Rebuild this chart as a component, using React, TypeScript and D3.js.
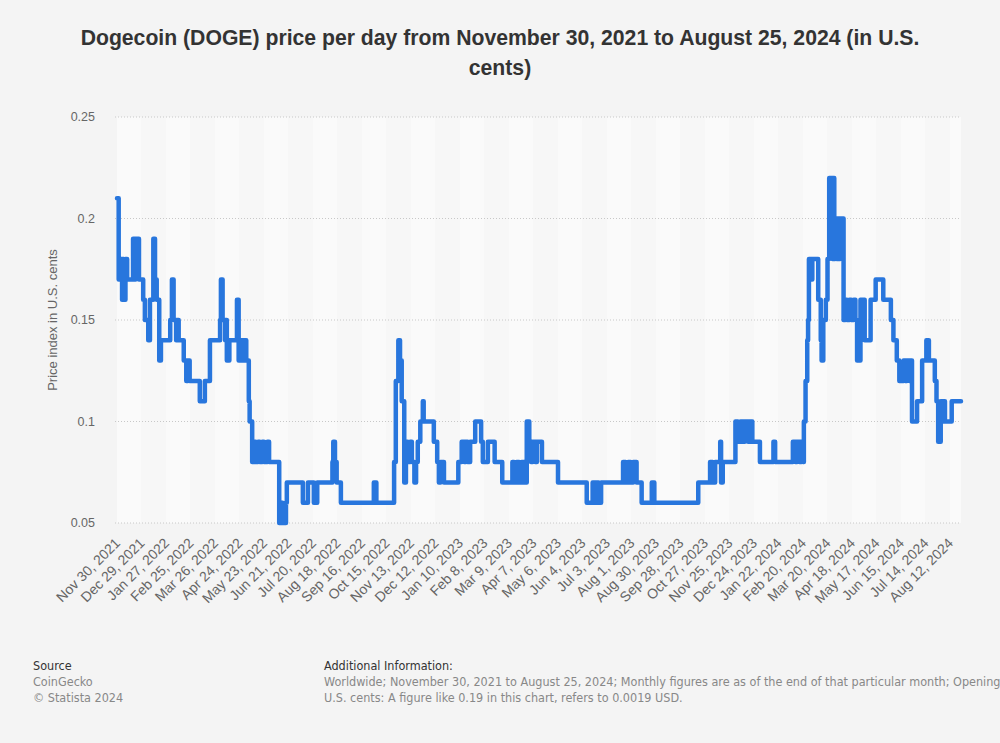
import React from "react";
import * as d3 from "d3";

// Dogecoin price per day (U.S. cents), Nov 30 2021 – Aug 25 2024.
// Values change only at the listed days (days since Nov 30, 2021) and hold until the next change.
const startDate = "2021-11-30";
const lastDay = 999;
const changeDay = [
  0, 2, 5, 6, 7, 8, 10, 12, 19, 21, 22, 26, 31, 33, 37, 39, 43, 45, 47, 50, 52, 63, 65, 67, 70, 71, 73, 79, 82, 84, 86,
  98, 104, 110, 122, 123, 125, 128, 129, 130, 133, 142, 144, 147, 149, 150, 153, 156, 157, 160, 162, 164, 167, 169,
  172, 174, 178, 180, 192, 195, 196, 200, 201, 220, 226, 233, 237, 255, 256, 258, 260, 265, 304, 307, 328, 330, 333,
  335, 337, 340, 342, 344, 347, 349, 352, 354, 356, 359, 362, 363, 375, 379, 381, 383, 387, 404, 408, 411, 413, 415,
  418, 424, 431, 433, 439, 447, 456, 468, 470, 473, 476, 479, 482, 485, 488, 490, 492, 495, 497, 503, 522, 556, 563,
  566, 568, 570, 573, 599, 602, 605, 608, 611, 615, 621, 633, 636, 688, 702, 705, 708, 714, 715, 717, 732, 735, 738,
  741, 743, 747, 749, 752, 761, 777, 779, 800, 803, 805, 808, 810, 812, 813, 815, 817, 818, 819, 822, 823, 830, 833,
  834, 836, 839, 841, 843, 847, 848, 849, 850, 852, 854, 855, 856, 860, 862, 864, 867, 869, 872, 874, 876, 880, 885,
  892, 898, 907, 916, 919, 923, 926, 931, 933, 935, 938, 939, 941, 947, 953, 958, 961, 968, 970, 972, 975, 977, 978,
  980, 988,
];
const priceCents = [
  0.21, 0.17, 0.18, 0.16, 0.18, 0.16, 0.18, 0.17, 0.19, 0.17, 0.19, 0.17, 0.16, 0.15, 0.14, 0.16, 0.19, 0.17, 0.16,
  0.13, 0.14, 0.15, 0.17, 0.15, 0.14, 0.15, 0.14, 0.13, 0.12, 0.13, 0.12, 0.11, 0.12, 0.14, 0.15, 0.17, 0.15, 0.14,
  0.15, 0.13, 0.14, 0.16, 0.13, 0.14, 0.13, 0.14, 0.13, 0.11, 0.1, 0.08, 0.09, 0.08, 0.09, 0.08, 0.09, 0.08, 0.09,
  0.08, 0.05, 0.06, 0.05, 0.06, 0.07, 0.06, 0.07, 0.06, 0.07, 0.08, 0.09, 0.08, 0.07, 0.06, 0.07, 0.06, 0.08, 0.12,
  0.14, 0.13, 0.11, 0.07, 0.09, 0.08, 0.09, 0.08, 0.07, 0.08, 0.09, 0.1, 0.11, 0.1, 0.09, 0.08, 0.07, 0.08, 0.07,
  0.08, 0.09, 0.08, 0.09, 0.08, 0.09, 0.1, 0.09, 0.08, 0.09, 0.08, 0.07, 0.08, 0.07, 0.08, 0.07, 0.08, 0.07, 0.1,
  0.09, 0.08, 0.09, 0.08, 0.09, 0.08, 0.07, 0.06, 0.07, 0.06, 0.07, 0.06, 0.07, 0.08, 0.07, 0.08, 0.07, 0.08, 0.07,
  0.06, 0.07, 0.06, 0.07, 0.08, 0.07, 0.08, 0.09, 0.07, 0.08, 0.1, 0.09, 0.1, 0.09, 0.1, 0.09, 0.1, 0.09, 0.08, 0.09,
  0.08, 0.09, 0.08, 0.09, 0.08, 0.09, 0.08, 0.1, 0.12, 0.14, 0.15, 0.18, 0.17, 0.18, 0.16, 0.14, 0.13, 0.15, 0.16,
  0.18, 0.22, 0.18, 0.22, 0.18, 0.2, 0.18, 0.2, 0.18, 0.2, 0.15, 0.16, 0.15, 0.16, 0.15, 0.16, 0.15, 0.13, 0.16, 0.14,
  0.16, 0.17, 0.16, 0.15, 0.14, 0.13, 0.12, 0.13, 0.12, 0.13, 0.12, 0.13, 0.1, 0.11, 0.13, 0.14, 0.13, 0.12, 0.11,
  0.09, 0.11, 0.1, 0.11, 0.1, 0.11,
];

const xTickLabels = [
  "Nov 30, 2021", "Dec 29, 2021", "Jan 27, 2022", "Feb 25, 2022", "Mar 26, 2022", "Apr 24, 2022", "May 23, 2022",
  "Jun 21, 2022", "Jul 20, 2022", "Aug 18, 2022", "Sep 16, 2022", "Oct 15, 2022", "Nov 13, 2022", "Dec 12, 2022",
  "Jan 10, 2023", "Feb 8, 2023", "Mar 9, 2023", "Apr 7, 2023", "May 6, 2023", "Jun 4, 2023", "Jul 3, 2023",
  "Aug 1, 2023", "Aug 30, 2023", "Sep 28, 2023", "Oct 27, 2023", "Nov 25, 2023", "Dec 24, 2023", "Jan 22, 2024",
  "Feb 20, 2024", "Mar 20, 2024", "Apr 18, 2024", "May 17, 2024", "Jun 15, 2024", "Jul 14, 2024", "Aug 12, 2024",
];
const yTicks = [0.05, 0.1, 0.15, 0.2, 0.25];

const titleLines = [
  "Dogecoin (DOGE) price per day from November 30, 2021 to August 25, 2024 (in U.S.",
  "cents)",
];
const yAxisTitle = "Price index in U.S. cents";
const sourceLines = ["CoinGecko", "© Statista 2024"];
const infoLines = [
  "Worldwide; November 30, 2021 to August 25, 2024; Monthly figures are as of the end of that particular month; Opening price in",
  "U.S. cents: A figure like 0.19 in this chart, refers to 0.0019 USD.",
];

const W = 1000;
const H = 743;
const FONT = "'Liberation Sans', Arial, Helvetica, sans-serif";
const NARROW = "'Liberation Sans Narrow', 'DejaVu Sans Condensed', 'Liberation Sans', sans-serif";

export default function App() {
  const parse = d3.timeParse("%b %d, %Y");
  const start = d3.timeParse("%Y-%m-%d")(startDate)!;
  const tickDays = xTickLabels.map((l) => d3.timeDay.count(start, parse(l)!));

  const x = d3.scaleLinear().domain([0, lastDay]).range([117, 961]);
  const y = d3.scaleLinear().domain([0.05, 0.25]).range([523, 117]);

  const points: [number, number][] = changeDay.map((d, i) => [d, priceCents[i]]);
  points.push([lastDay, priceCents[priceCents.length - 1]]);
  const line = d3
    .line<[number, number]>()
    .x((d) => x(d[0]))
    .y((d) => y(d[1]))
    .curve(d3.curveStepAfter);

  const bandEdges = [...tickDays, lastDay];
  const [yTop, yBot] = [y(0.25), y(0.05)];

  return (
    <svg
      width={W}
      height={H}
      style={{ position: "absolute", left: 0, top: 0, display: "block" }}
      xmlns="http://www.w3.org/2000/svg"
    >
      <rect x={0} y={0} width={W} height={H} fill="#f4f4f4" />
      {/* title */}
      {titleLines.map((t, i) => (
        <text
          key={i}
          x={W / 2}
          y={45 + i * 30}
          textAnchor="middle"
          fontFamily={FONT}
          fontWeight="bold"
          fontSize={21.2}
          fill="#333333"
        >
          {t}
        </text>
      ))}
      {/* stripes */}
      {bandEdges.slice(0, -1).map((d, i) => (
        <rect
          key={i}
          x={x(d)}
          y={yTop}
          width={x(bandEdges[i + 1]) - x(d)}
          height={yBot - yTop}
          fill={i % 2 === 0 ? "#fafafa" : "#f7f7f7"}
        />
      ))}
      {/* grid */}
      {yTicks.map((t) => (
        <g key={t}>
          <line
            x1={115}
            x2={961}
            y1={y(t)}
            y2={y(t)}
            stroke="#c8c8c8"
            strokeWidth={1}
            strokeDasharray="1,2"
          />
          <text
            x={95}
            y={y(t) + 4}
            textAnchor="end"
            fontFamily={FONT}
            fontSize={12.5}
            fill="#666666"
          >
            {t}
          </text>
        </g>
      ))}
      <text
        transform={`translate(57,${(yTop + yBot) / 2}) rotate(-90)`}
        textAnchor="middle"
        fontFamily={FONT}
        fontSize={13}
        fill="#666666"
      >
        {yAxisTitle}
      </text>
      {/* line */}
      <path
        d={line(points) ?? ""}
        fill="none"
        stroke="#2876dd"
        strokeWidth={4.5}
        strokeLinejoin="round"
        strokeLinecap="round"
      />
      {/* x labels */}
      {xTickLabels.map((l, i) => (
        <text
          key={l}
          transform={`translate(${x(tickDays[i]) + 4},${yBot + 21}) rotate(-45)`}
          textAnchor="end"
          fontFamily={FONT}
          fontSize={14}
          fill="#666666"
        >
          {l}
        </text>
      ))}
      {/* footer */}
      <text x={33} y={670} fontFamily={NARROW} fontSize={12.5} fill="#333333">
        Source
      </text>
      {sourceLines.map((t, i) => (
        <text key={t} x={33} y={686 + i * 16} fontFamily={NARROW} fontSize={12.5} fill="#888888">
          {t}
        </text>
      ))}
      <text x={324} y={670} fontFamily={NARROW} fontSize={12.5} fill="#333333">
        Additional Information:
      </text>
      {infoLines.map((t, i) => (
        <text key={i} x={324} y={686 + i * 16} fontFamily={NARROW} fontSize={12.5} fill="#888888">
          {t}
        </text>
      ))}
    </svg>
  );
}
